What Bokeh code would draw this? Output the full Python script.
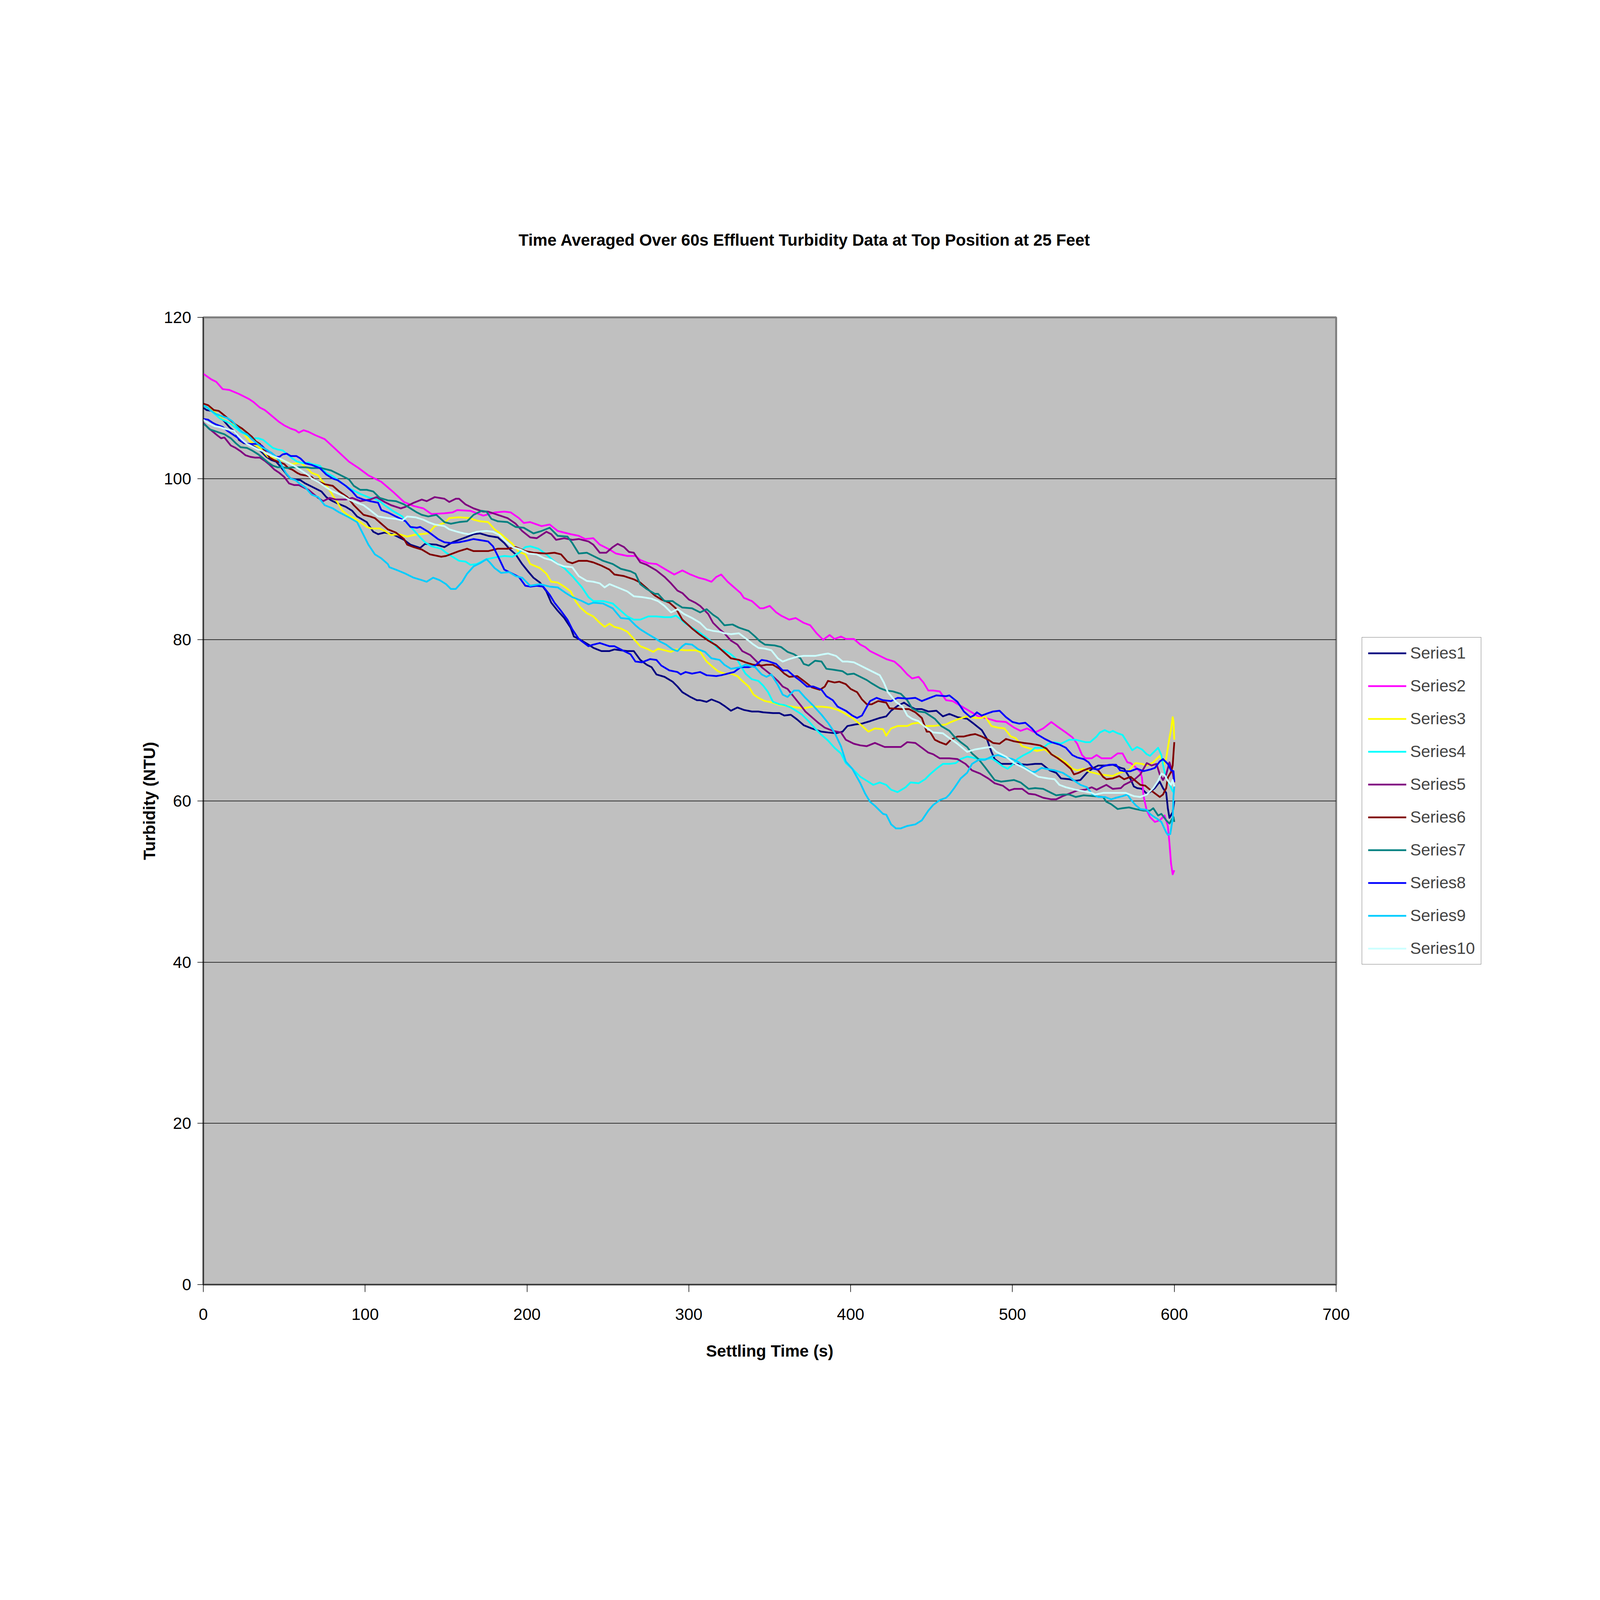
from bokeh.plotting import figure
from bokeh.models import Legend, LegendItem, SingleIntervalTicker
from bokeh.embed import file_html
from bokeh.resources import INLINE

# (settling time s, turbidity NTU), one list per series
s1 = [(0,108.8),(2,108.5),(5,108.4),(9,107.9),(13,107.1),(16,106.4),(20,105.7),(22,104.8),(25,104.4),(28,104.3),(31,104.0),(35,103.5),(39,102.7),(42,102.3),(45,102.1),(48,101.4),(50,100.9),(52,100.4),(54,100.0),(57,99.9),(60,99.8),(63,99.4),(67,99.0),(73,98.4),(76,97.7),(79,97.3),(82,97.0),(88,96.5),(92,96.0),(95,95.3),(101,94.6),(105,93.4),(108,93.1),(112,93.3),(117,93.1),(124,92.4),(128,91.8),(134,91.4),(137,91.9),(144,91.8),(149,91.5),(154,92.1),(162,92.7),(167,93.1),(171,93.2),(176,92.9),(182,92.7),(186,92.0),(189,91.3),(193,90.6),(197,89.4),(201,88.4),(204,87.7),(208,87.1),(212,86.0),(215,84.6),(219,83.6),(223,82.7),(227,81.5),(229,80.4),(233,80.0),(238,79.4),(241,79.0),(246,78.6),(251,78.6),(254,78.8),(258,78.7),(262,78.6),(266,78.6),(270,77.5),(274,76.9),(277,76.6),(280,75.7),(285,75.4),(290,74.8),(293,74.2),(296,73.5),(301,72.9),(305,72.5),(307,72.5),(311,72.3),(314,72.6),(319,72.2),(322,71.8),(326,71.2),(330,71.6),(334,71.3),(339,71.1),(343,71.1),(346,71.0),(352,70.9),(356,70.9),(359,70.6),(363,70.7),(367,70.1),(371,69.4),(376,69.0),(382,68.6),(386,68.5),(391,68.4),(395,68.6),(398,69.3),(403,69.5),(407,69.6),(412,69.9),(418,70.3),(422,70.5),(425,71.2),(429,71.8),(433,72.2),(436,71.8),(440,71.4),(444,71.4),(448,71.1),(453,71.2),(457,70.5),(461,70.8),(466,70.4),(472,70.2),(476,69.6),(481,68.8),(484,67.8),(487,66.1),(489,65.2),(493,64.6),(498,64.6),(503,64.6),(509,64.5),(514,64.6),(518,64.6),(523,63.8),(527,63.5),(530,62.8),(535,62.7),(539,62.5),(542,62.6),(546,63.5),(550,64.1),(553,64.4),(557,64.4),(562,64.5),(567,64.1),(569,64.0),(573,62.7),(575,61.8),(577,61.6),(580,61.5),(583,60.9),(585,61.1),(588,61.6),(591,62.4),(593,61.6),(595,61.0),(596,59.1),(597,57.9),(599,58.6),(600,60.0)]
s2 = [(0,113.0),(5,112.3),(8,112.0),(12,111.1),(16,111.0),(22,110.5),(25,110.2),(28,109.9),(31,109.5),(35,108.8),(38,108.5),(41,108.0),(44,107.5),(47,107.0),(50,106.6),(54,106.2),(57,106.0),(59,105.7),(62,106.0),(65,105.8),(69,105.4),(75,104.9),(82,103.6),(90,102.1),(96,101.3),(102,100.4),(110,99.6),(117,98.4),(124,97.1),(130,96.6),(136,96.3),(141,95.6),(149,95.7),(154,95.8),(157,96.1),(165,96.0),(173,95.4),(180,95.8),(186,95.9),(190,95.8),(195,95.1),(198,94.5),(202,94.6),(209,94.1),(214,94.3),(219,93.5),(227,93.1),(232,92.9),(236,92.5),(241,92.6),(245,91.8),(251,91.2),(255,90.7),(262,90.4),(267,90.4),(270,89.9),(275,89.5),(280,89.4),(285,88.8),(291,88.1),(296,88.6),(301,88.1),(306,87.7),(310,87.5),(314,87.2),(317,87.8),(320,88.1),(324,87.2),(328,86.5),(332,85.8),(334,85.2),(339,84.8),(344,83.9),(346,83.9),(350,84.2),(354,83.4),(357,83.0),(362,82.5),(366,82.7),(371,82.1),(375,81.8),(379,80.8),(383,80.0),(387,80.6),(390,80.1),(394,80.4),(397,80.1),(402,80.1),(406,79.4),(409,79.1),(412,78.6),(417,78.1),(422,77.6),(427,77.3),(431,76.6),(435,75.7),(438,75.2),(442,75.4),(445,74.7),(448,73.7),(451,73.7),(455,73.6),(459,72.5),(463,72.4),(468,71.8),(474,71.1),(479,70.5),(485,70.2),(490,69.9),(496,69.8),(501,69.1),(505,68.7),(509,69.0),(514,68.5),(519,69.0),(524,69.8),(528,69.2),(533,68.5),(537,67.9),(540,67.1),(543,65.7),(545,65.3),(549,65.3),(552,65.7),(555,65.3),(561,65.3),(565,65.9),(568,65.9),(571,64.8),(573,64.7),(576,64.2),(579,63.6),(580,62.9),(581,60.6),(583,58.8),(585,58.0),(588,57.4),(591,57.6),(594,58.2),(596,56.9),(597,54.8),(598,52.2),(599,50.9),(600,51.4)]
s3 = [(0,109.0),(6,108.5),(11,107.5),(15,107.0),(22,106.3),(24,105.8),(29,104.6),(35,103.8),(40,102.7),(44,102.6),(51,102.1),(55,101.8),(60,102.0),(64,101.3),(67,100.7),(71,100.4),(73,99.8),(77,98.9),(80,97.9),(83,97.0),(86,96.0),(89,95.5),(93,95.1),(97,94.6),(101,94.0),(104,93.8),(109,93.8),(113,93.4),(116,93.0),(121,93.1),(126,92.8),(130,93.0),(134,93.1),(139,93.2),(143,94.1),(149,94.5),(152,95.1),(158,95.2),(165,95.1),(167,94.9),(171,94.7),(176,94.6),(180,93.7),(184,93.1),(188,92.4),(191,91.9),(195,90.9),(199,90.6),(202,89.4),(208,88.9),(212,88.2),(215,87.2),(219,87.1),(223,86.6),(227,86.0),(230,84.8),(233,84.0),(237,83.3),(241,82.9),(245,82.1),(248,81.6),(251,82.0),(254,81.6),(258,81.4),(262,81.0),(266,80.1),(270,79.2),(274,78.9),(278,78.5),(281,78.9),(285,78.7),(289,78.5),(292,78.8),(298,78.7),(304,78.7),(307,78.5),(311,77.3),(315,76.6),(318,76.1),(322,75.8),(326,75.8),(330,75.5),(333,74.9),(337,74.2),(340,73.2),(343,72.8),(347,72.4),(352,72.2),(356,71.9),(361,71.8),(367,71.6),(371,71.5),(376,71.7),(382,71.7),(387,71.6),(392,71.3),(396,70.9),(401,70.3),(406,69.5),(411,68.6),(415,69.0),(420,68.9),(422,68.1),(425,69.0),(429,69.3),(435,69.3),(438,69.6),(442,69.7),(446,69.3),(451,69.3),(459,69.5),(462,69.8),(467,70.2),(472,70.5),(477,70.3),(481,70.3),(483,70.5),(487,69.3),(491,69.1),(495,69.0),(499,68.0),(502,67.8),(506,66.8),(511,66.5),(515,66.2),(520,66.4),(524,65.8),(529,65.3),(533,64.8),(537,64.0),(540,63.8),(544,64.0),(548,63.6),(550,63.5),(554,63.3),(558,63.2),(562,63.1),(565,63.4),(568,63.6),(572,63.8),(576,64.7),(580,64.6),(583,64.4),(587,64.8),(591,65.6),(593.5,64.5),(595,65.3),(597,67.8),(598,68.9),(599,70.4),(599.5,69.9),(600,67.6)]
s4 = [(0,109.1),(3,108.7),(6,108.2),(10,107.5),(14,107.1),(17,106.8),(20,106.3),(23,105.8),(27,105.4),(31,105.0),(34,105.0),(37,104.8),(40,104.3),(43,103.8),(46,103.6),(49,103.5),(52,103.0),(55,102.5),(58,102.1),(62,101.9),(65,102.0),(67,101.8),(72,101.6),(76,100.7),(80,100.3),(84,99.7),(88,99.1),(92,98.6),(97,98.1),(103,97.6),(105,97.6),(109,97.2),(112,96.7),(117,96.0),(123,95.3),(126,94.4),(130,93.6),(134,92.7),(137,92.1),(141,91.6),(147,91.3),(150,90.8),(154,90.3),(158,89.8),(162,89.7),(165,89.3),(169,89.4),(175,90.0),(180,90.2),(186,90.4),(191,90.3),(195,90.8),(199,91.5),(202,91.6),(207,91.3),(212,90.6),(217,89.7),(223,88.9),(228,87.9),(234,86.5),(238,85.3),(241,84.8),(247,84.8),(253,84.5),(258,83.6),(262,82.9),(266,82.5),(270,82.5),(275,82.9),(280,82.9),(285,82.8),(289,82.8),(292,83.0),(294,82.7),(298,82.0),(302,81.5),(306,81.0),(310,80.4),(314,79.8),(318,78.9),(322,78.7),(326,78.2),(330,77.5),(332,76.8),(335,75.8),(339,75.1),(343,74.9),(346,74.3),(349,73.5),(352,72.3),(356,72.0),(359,71.9),(363,71.6),(367,71.1),(370,70.7),(374,69.9),(378,69.0),(382,68.2),(386,67.5),(390,66.6),(394,65.9),(397,64.7),(401,64.0),(406,63.0),(410,62.5),(414,62.0),(418,62.3),(422,62.0),(425,61.4),(429,61.1),(434,61.7),(437,62.3),(442,62.2),(446,62.7),(449,63.3),(453,64.0),(457,64.6),(461,64.6),(465,64.7),(468,65.2),(472,65.5),(475,65.4),(479,65.2),(483,65.2),(487,65.3),(490,64.9),(494,64.3),(497,64.0),(500,64.5),(503,65.2),(507,65.7),(511,66.1),(514,66.6),(519,66.6),(522,67.1),(526,67.3),(530,67.1),(535,67.6),(539,67.6),(545,67.3),(548,67.3),(552,68.0),(554,68.5),(557,68.8),(560,68.5),(562,68.7),(565,68.4),(568,68.2),(570.5,67.4),(574,66.3),(577,66.7),(580,66.4),(583,65.8),(585,65.6),(588,66.2),(590,66.6),(592,65.7),(593.5,64.0),(595,62.9),(597,62.1),(599,61.2),(600,61.0)]
s5 = [(0,106.9),(3,106.3),(6,105.8),(9,105.3),(11,105.0),(13,105.1),(15,104.6),(17,104.1),(20,103.8),(23,103.4),(26,102.9),(29,102.7),(32,102.6),(35,102.6),(38,102.2),(41,101.7),(44,101.1),(47,100.7),(50,100.2),(53,99.4),(56,99.2),(59,99.2),(62,98.9),(65,98.6),(68,98.1),(71,97.6),(74,97.2),(78,97.6),(82,97.4),(88,97.4),(92,97.6),(97,97.2),(103,97.4),(107,97.7),(112,97.1),(116,96.7),(122,96.3),(125,96.5),(130,97.0),(135,97.4),(138,97.2),(143,97.7),(149,97.5),(152,97.1),(156,97.5),(158,97.5),(162,96.8),(167,96.3),(173,95.9),(176,95.9),(182,95.5),(188,95.1),(193,94.4),(197,93.5),(202,92.7),(206,92.6),(212,93.4),(215,93.1),(218,92.4),(223,92.6),(228,92.4),(232,92.5),(238,92.2),(241,91.8),(245,90.8),(249,90.8),(253,91.5),(256,91.9),(260,91.5),(263,90.9),(266,90.8),(270,89.6),(274,89.3),(280,88.6),(285,87.8),(289,87.0),(293,86.1),(296,85.8),(300,85.0),(304,84.6),(307,84.2),(312,83.2),(315,82.1),(319,81.3),(322,80.8),(326,79.9),(330,79.4),(333,78.6),(338,78.1),(342,77.3),(345,76.6),(350,75.8),(355,74.9),(358,74.2),(361,73.9),(365,72.9),(369,71.9),(372,71.1),(376,70.4),(380,69.7),(384,69.1),(389,68.7),(394,68.5),(397,67.6),(402,67.1),(406,66.9),(410,66.8),(415,67.2),(421,66.7),(426,66.7),(431,66.7),(435,67.3),(440,67.2),(444,66.6),(448,66.0),(451,65.8),(455,65.3),(461,65.3),(466,65.2),(471,64.6),(475,63.8),(480,63.4),(485,62.8),(489,62.2),(494,61.9),(498,61.3),(501,61.5),(506,61.5),(510,60.9),(514,60.8),(519,60.4),(524,60.2),(527,60.2),(531,60.6),(535,60.9),(540,61.3),(545,61.4),(549,61.7),(552,61.4),(558,62.0),(562,61.5),(567,61.6),(569,62.0),(572,62.3),(575,62.6),(579,63.3),(581,64.0),(583,64.7),(586,64.4),(589,64.6),(591,63.3),(593,62.6),(595,63.3),(597,64.8),(599,63.5),(600,62.3)]
s6 = [(0,109.3),(3,109.1),(6.5,108.5),(9.5,108.4),(12,108.0),(15,107.5),(20,106.7),(24,106.2),(27,105.7),(30,105.2),(32.5,104.6),(35,104.3),(38,103.4),(41,102.6),(43.5,102.3),(47.5,102.0),(50,101.8),(52.5,101.3),(55,101.1),(58,100.7),(60,100.5),(63,100.4),(67,100.2),(69,99.8),(75,99.3),(80,99.1),(84,98.4),(89,97.7),(93,96.7),(99,95.5),(103,95.3),(106,95.1),(110,94.4),(114,93.7),(119,93.3),(124,92.5),(126,91.8),(130,91.5),(135,91.2),(140,90.6),(147,90.3),(150,90.4),(154,90.7),(158,91.0),(163,91.3),(167,91.0),(176,91.0),(182,91.3),(188,91.3),(193,91.5),(199,91.0),(204,90.8),(212,90.7),(217,90.8),(221,90.6),(225,89.7),(228,89.5),(232,89.8),(237,89.8),(241,89.6),(246,89.2),(251,88.7),(254,88.1),(260,87.9),(266,87.5),(270,87.1),(274,86.4),(279,85.5),(283,85.0),(288,84.6),(292,83.9),(296,82.5),(302,81.4),(307,80.6),(312,79.9),(317,79.3),(321,78.6),(326,77.7),(331,77.5),(335,77.2),(340,76.9),(345,76.8),(348,76.9),(352,76.9),(356,76.4),(359,75.8),(362,75.4),(367,75.5),(371,74.9),(376,74.1),(381,73.8),(384,74.2),(386,74.9),(390,74.7),(393,74.8),(397,74.5),(400,73.9),(404,73.5),(407,72.6),(410,72.0),(413,72.0),(417,72.4),(422,72.2),(424,71.5),(431,71.4),(436,71.4),(440,71.0),(444,70.3),(447,68.6),(449,68.6),(452,67.6),(455,67.3),(459,67.0),(462,67.6),(466,68.0),(470,68.0),(474,68.2),(477,68.3),(481,68.0),(485,67.6),(488,67.2),(492,67.1),(496,67.7),(501,67.4),(507,67.2),(511,67.1),(517,66.9),(521,66.5),(524,65.8),(528,65.3),(532,64.7),(536,64.0),(538,63.3),(541,63.5),(544,63.8),(548,64.1),(550,64.1),(553,63.8),(556,63.0),(558,62.7),(562,62.8),(566,63.1),(569,62.7),(573,63.0),(576,62.5),(579,62.0),(582,61.9),(585,61.4),(589,60.8),(591,60.5),(593,60.8),(595,61.6),(596,62.9),(598,63.6),(599,64.4),(599.5,65.9),(600,67.3)]
s7 = [(0,106.8),(2,106.5),(4,106.1),(7,105.9),(10,105.7),(13,105.5),(17,105.0),(20,104.4),(23,103.9),(27,103.8),(30,103.5),(34,103.0),(37,102.5),(40,102.0),(43,101.6),(46,101.4),(49,101.4),(52,101.3),(55,101.4),(59,101.4),(63,101.4),(67,101.3),(73,101.3),(79,101.0),(84,100.5),(90,99.9),(93,99.1),(97,98.6),(101,98.6),(105,98.4),(109,97.6),(114,97.3),(119,97.2),(124,96.8),(128,96.3),(132,95.8),(135,95.5),(139,95.3),(144,95.5),(149,94.6),(153,94.4),(158,94.6),(163,94.7),(167,95.5),(172,96.0),(175,95.9),(178,95.0),(182,94.7),(188,94.6),(193,94.0),(198,93.9),(204,93.2),(209,93.5),(214,93.9),(219,92.9),(225,92.8),(228,92.0),(232,90.7),(237,90.8),(241,90.4),(247,89.8),(253,89.4),(258,88.8),(264,88.5),(267,88.2),(270,86.9),(274,86.3),(279,85.7),(281,85.7),(285,84.8),(290,84.8),(292,84.5),(296,84.0),(302,83.9),(307,83.4),(311,83.8),(315,83.1),(318,82.7),(322,81.8),(327,81.9),(331,81.5),(337,81.1),(341,80.4),(344,79.8),(347,79.4),(353,79.3),(357,79.1),(361,78.5),(365,78.2),(369,77.7),(371,77.0),(374,76.8),(378,77.4),(382,77.3),(385,76.4),(389,76.3),(395,76.1),(398,75.7),(402,75.8),(406,75.4),(410,75.0),(413,74.6),(418,74.0),(422,73.7),(426,73.6),(431,73.3),(435,72.5),(438,71.5),(442,71.1),(446,71.0),(449,70.6),(452,70.2),(456,69.3),(461,68.7),(464,68.0),(468,67.3),(472,66.7),(475,65.9),(479,65.2),(483,64.2),(486,63.4),(489,62.6),(493,62.4),(497,62.5),(501,62.6),(505,62.3),(510,61.5),(514,61.6),(519,61.5),(524,61.0),(527,60.7),(531,60.8),(535,60.8),(539,60.5),(544,60.7),(550,60.6),(556,60.5),(558,59.9),(561,59.6),(565,59.0),(568,59.1),(572,59.2),(576,59.0),(581,58.8),(585,58.8),(587,59.1),(590,58.2),(592,58.4),(595,57.6),(597,57.2),(599,57.9),(599.5,58.0),(600,57.4)]
s8 = [(0,107.4),(3,107.3),(6,106.9),(8,106.7),(12,106.4),(15,105.9),(18,105.5),(21,105.1),(24,104.6),(27,104.3),(30,104.3),(33,104.3),(36,104.1),(39,103.5),(42,103.2),(45,102.7),(47,102.7),(49,103.0),(51.5,103.1),(54,102.8),(57.5,102.8),(60,102.5),(63,101.9),(67,101.7),(72,101.3),(76,100.5),(80,100.0),(83,99.8),(88,99.1),(92,98.4),(95,97.7),(99,97.4),(103,97.2),(108,97.0),(110,96.1),(114,95.8),(119,95.3),(125,94.7),(128,94.0),(132,93.9),(134,94.0),(139,93.4),(145,92.5),(149,92.1),(153,92.0),(158,92.1),(163,92.3),(167,92.5),(173,92.3),(176,92.2),(179,91.6),(182,90.4),(186,88.7),(189,88.4),(195,87.8),(199,86.7),(202,86.6),(206,86.7),(210,86.6),(214,85.6),(217,84.6),(221,83.6),(225,82.5),(228,81.3),(232,80.1),(238,79.2),(241,79.4),(245,79.6),(251,79.2),(254,79.2),(260,78.6),(264,78.2),(267,77.3),(271,77.2),(276,77.6),(280,77.5),(283,76.8),(288,76.2),(293,76.0),(295,75.7),(298,76.0),(302,75.8),(307,76.0),(311,75.6),(317,75.5),(320,75.6),(324,75.8),(328,76.0),(332,76.6),(337,76.6),(341,76.8),(345,77.5),(348,77.4),(354,77.0),(358,76.2),(361,76.2),(365,75.5),(369,74.9),(373,74.2),(377,74.2),(382,73.8),(385,73.0),(389,72.5),(392,71.7),(397,71.2),(401,70.6),(404,70.3),(407,70.6),(410,71.7),(412,72.4),(416,72.8),(420,72.5),(425,72.4),(429,72.8),(435,72.7),(440,72.8),(444,72.4),(449,72.8),(453,73.1),(459,73.0),(461,73.1),(466,72.3),(470,71.1),(474,70.4),(476,70.6),(478,71.0),(481,70.6),(485,70.9),(488,71.1),(492,71.2),(496,70.4),(500,69.8),(504,69.6),(508,69.7),(512,69.0),(515,68.3),(520,67.7),(524,67.3),(529,67.0),(533,66.6),(537,65.7),(540,65.4),(544,65.2),(547,64.8),(550,64.0),(553,63.9),(556,64.3),(560,64.5),(564,64.5),(566.5,63.8),(569,63.7),(573,63.7),(577,64.0),(581,63.7),(585,63.9),(588,64.1),(591,64.9),(593,65.2),(596,64.6),(598,63.8),(599.5,63.7),(600,62.4)]
s9 = [(0,109.0),(2,108.9),(5,108.4),(8,108.0),(12,107.7),(15,107.5),(18,107.1),(21,106.4),(24,105.8),(27,105.5),(30,104.9),(33,104.4),(36,103.9),(39,103.6),(42,103.2),(45,102.7),(47,102.2),(49,101.4),(51,100.7),(54,100.0),(57,99.8),(60,99.3),(63,98.9),(67,98.0),(71,97.7),(75,96.7),(80,96.3),(84,95.8),(89,95.3),(95,94.6),(99,93.0),(102,91.8),(106,90.6),(110,90.1),(114,89.4),(115,89.0),(119,88.7),(125,88.2),(130,87.7),(135,87.4),(138,87.2),(142,87.7),(146,87.4),(150,86.9),(153,86.3),(156,86.3),(160,87.2),(163,88.2),(167,89.1),(171,89.5),(175,90.0),(177,89.6),(180,88.9),(184,88.3),(189,88.4),(193,87.9),(197,87.7),(202,86.7),(208,86.9),(214,86.6),(219,86.5),(224,85.8),(228,85.3),(234,84.8),(238,84.4),(241,84.6),(247,84.5),(253,83.9),(258,82.7),(263,82.6),(267,81.8),(270,81.3),(274,80.8),(279,80.2),(282,79.8),(286,79.4),(290,78.8),(293,78.6),(296,79.2),(298,79.5),(302,79.4),(306,78.8),(310,78.5),(314,77.7),(319,77.5),(322,76.9),(326,76.4),(332,76.6),(335,76.9),(341,76.6),(345,75.7),(348,75.4),(351,75.7),(355,74.4),(358,73.2),(361,72.9),(365,73.7),(368,73.7),(372,72.8),(377,71.8),(382,70.7),(386,69.7),(390,68.5),(394,66.8),(397,64.9),(401,64.0),(406,62.2),(409,60.9),(412,59.9),(415,59.4),(420,58.4),(422,58.3),(425,57.1),(428,56.6),(431,56.6),(435,56.9),(440,57.1),(444,57.6),(448,58.8),(451,59.5),(455,60.1),(459,60.4),(461,60.8),(464,61.6),(468,62.8),(472,63.5),(475,64.6),(479,65.1),(483,65.1),(487,65.5),(491,65.7),(496,65.4),(500,65.2),(504,64.8),(508,64.1),(512,63.6),(514,63.6),(518,64.1),(523,63.9),(526,63.8),(531,63.5),(535,63.0),(539,62.4),(542,62.0),(546,61.7),(549,60.9),(553,60.5),(557,60.5),(561,60.2),(564,60.4),(568,60.6),(571,60.8),(573,60.2),(576,59.5),(579,59.0),(583,58.9),(585,58.4),(587,58.1),(590,57.7),(592,57.4),(595,56.1),(596,55.8),(597.5,55.9),(599,57.8),(599.5,60.6),(600,61.8)]
s10 = [(0,107.3),(3,106.9),(7,106.5),(10,106.4),(13,106.2),(17,106.0),(19,105.9),(21.5,105.3),(24,104.8),(27,104.3),(30,104.0),(34,103.6),(37,103.4),(40,103.0),(44,102.7),(47,102.5),(50,102.2),(53,101.9),(56,101.6),(59,101.2),(62,100.8),(65,100.4),(67,100.0),(71,99.6),(76,98.9),(80,98.4),(86,97.9),(90,97.4),(95,97.0),(99,96.7),(103,96.1),(108,95.3),(114,95.1),(119,95.0),(123,94.8),(126,95.3),(131,95.2),(136,94.9),(139,94.6),(143,94.3),(149,94.1),(152,93.7),(157,93.4),(161,93.2),(164,93.1),(169,93.4),(175,93.5),(179,93.4),(183,93.0),(187,92.2),(191,91.5),(196,91.2),(201,90.7),(206,90.6),(211,90.1),(215,89.9),(219,89.4),(223,89.1),(228,89.0),(232,87.9),(237,87.3),(241,87.2),(245,87.0),(248,86.5),(251,86.9),(256,86.5),(262,86.0),(266,85.4),(271,85.3),(277,85.1),(281,84.8),(285,84.2),(289,83.4),(293,83.8),(297,83.2),(302,82.7),(307,82.1),(311,81.3),(315,81.1),(319,81.0),(322,80.8),(326,80.7),(331,80.8),(335,80.2),(340,79.4),(343,79.0),(347,78.9),(351,78.7),(355,77.7),(358,77.3),(362,77.6),(367,77.9),(371,78.0),(378,78.0),(383,78.2),(386,78.3),(391,78.0),(395,77.3),(398,77.3),(402,77.2),(406,76.8),(410,76.4),(414,76.0),(418,75.6),(420.5,74.7),(423,73.5),(428,72.3),(432,71.7),(435,70.6),(438,70.2),(442,69.9),(446,69.2),(451,68.5),(457,68.4),(461,67.8),(466,67.1),(472,66.1),(477,66.4),(483,66.6),(487,66.7),(490,66.1),(496,65.5),(501,64.7),(507,64.1),(512,63.5),(516,63.0),(522,62.8),(526,62.7),(529,62.0),(533,61.7),(539,61.4),(544,61.2),(549,61.0),(551,60.8),(556,61.0),(561,61.0),(570,61.0),(575,60.6),(579,60.5),(583,60.8),(587,61.6),(590,62.5),(592,63.4),(594,63.2),(596,62.5),(598,62.0),(599,62.6),(600,61.8)]

series = [s1, s2, s3, s4, s5, s6, s7, s8, s9, s10]
names = ["Series1", "Series2", "Series3", "Series4", "Series5",
         "Series6", "Series7", "Series8", "Series9", "Series10"]
colors = ["#000080", "#FF00FF", "#FFFF00", "#00FFFF", "#800080",
          "#800000", "#008080", "#0000FF", "#00CCFF", "#CCFFFF"]

title = "Time Averaged Over 60s  Effluent Turbidity Data at Top Position at 25 Feet"
FONT = "Liberation Sans"

# the photographed area tops out at 4096 px, so the chart is laid out to fill that square;
# the frame size is pinned so the legend panel on the right can't squeeze it
p = figure(frame_width=2900, frame_height=2476, x_range=(0, 700), y_range=(0, 120),
           output_backend="svg", toolbar_location=None,
           min_border_left=520, min_border_right=660,
           min_border_top=812, min_border_bottom=792)

p.title.text = title
p.title.align = "left"
p.title.offset = 807
p.title.vertical_align = "bottom"
p.title.standoff = 349
p.title.text_font = FONT
p.title.text_font_size = "42px"
p.title.text_font_style = "bold"
p.title.text_color = "black"

p.background_fill_color = "#C0C0C0"
p.border_fill_color = "white"
p.outline_line_color = "#808080"
p.outline_line_width = 5

p.xgrid.visible = False
p.ygrid.grid_line_color = "black"
p.ygrid.grid_line_width = 1.5

p.xaxis.ticker = SingleIntervalTicker(interval=100, num_minor_ticks=0)
p.yaxis.ticker = SingleIntervalTicker(interval=20, num_minor_ticks=0)

for ax in (p.xaxis[0], p.yaxis[0]):
    ax.axis_line_color = "black"
    ax.axis_line_width = 1.5
    ax.major_tick_line_color = "black"
    ax.major_tick_line_width = 1.5
    ax.major_tick_in = 0
    ax.minor_tick_line_color = None
    ax.major_label_text_font = FONT
    ax.major_label_text_font_size = "42px"
    ax.major_label_text_color = "black"
    ax.axis_label_text_font = FONT
    ax.axis_label_text_font_size = "42px"
    ax.axis_label_text_font_style = "bold"
    ax.axis_label_text_color = "black"

p.xaxis.axis_label = "Settling Time (s)"
p.yaxis.axis_label = "Turbidity (NTU)"
p.xaxis.major_tick_out = 19
p.yaxis.major_tick_out = 15
p.xaxis.major_label_standoff = 42
p.yaxis.major_label_standoff = 16
p.xaxis.axis_label_standoff = 53
p.yaxis.axis_label_standoff = 10

items = []
for pts, name, col in zip(series, names, colors):
    xs = [t for t, v in pts]
    ys = [v for t, v in pts]
    r = p.line(xs, ys, line_color=col, line_width=4.5, line_join="round")
    items.append(LegendItem(label=name, renderers=[r]))

legend = Legend(items=items, location="center_left", margin=66,
                padding=15, spacing=34, glyph_width=98, glyph_height=50,
                label_height=50, label_standoff=10,
                label_text_font=FONT, label_text_font_size="42px",
                border_line_color="black", border_line_width=1.5,
                background_fill_color="white", background_fill_alpha=1.0)
p.add_layout(legend, "right")

open("out.html", "w").write(file_html(p, INLINE))
